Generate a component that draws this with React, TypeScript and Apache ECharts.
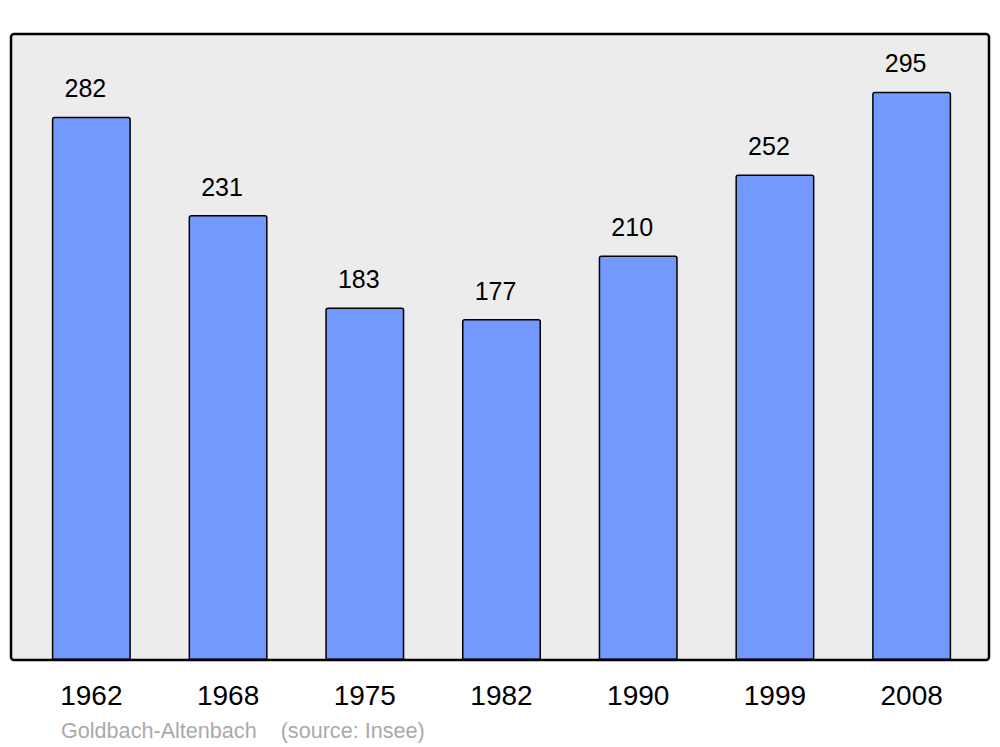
import React, { useEffect, useRef } from "react";
import * as echarts from "echarts";

const years = ["1962", "1968", "1975", "1982", "1990", "1999", "2008"];
const population = [282, 231, 183, 177, 210, 252, 295];
const footerText = "Goldbach-Altenbach    (source: Insee)";

export default function App() {
  const ref = useRef<HTMLDivElement>(null);
  useEffect(() => {
    if (!ref.current) return;
    const chart = echarts.init(ref.current, undefined, { renderer: "svg" });
    chart.setOption({
      animation: false,
      backgroundColor: "#ffffff",
      textStyle: { fontFamily: "Liberation Sans, Arial, sans-serif" },
      grid: { left: 23, right: 20, top: 34, bottom: 87 },
      xAxis: {
        type: "category",
        data: years,
        axisLine: { show: false },
        axisTick: { show: false },
        axisLabel: {
          color: "#000",
          fontSize: 28,
          lineHeight: 28,
          margin: 21,
          fontFamily: "Liberation Sans, Arial, sans-serif",
        },
      },
      yAxis: {
        type: "value",
        min: 0,
        max: 325,
        show: false,
        splitLine: { show: false },
      },
      graphic: [
        {
          type: "rect",
          z: 0,
          shape: { x: 11, y: 34, width: 978, height: 626, r: 3 },
          style: { fill: "#ececec", stroke: "none" },
        },
        {
          type: "rect",
          z: 10,
          shape: { x: 11, y: 34, width: 978, height: 626, r: 3 },
          style: { fill: "none", stroke: "#000", lineWidth: 2.5 },
        },
        {
          type: "text",
          x: 61,
          y: 730,
          style: {
            text: footerText,
            fill: "#aaaaaa",
            fontSize: 21.6,
            fontFamily: "Liberation Sans, Arial, sans-serif",
            verticalAlign: "middle",
            align: "left",
          },
        },
      ],
      series: [
        {
          type: "bar",
          data: population,
          barWidth: 79,
          itemStyle: {
            color: "#7399ff",
            borderColor: "#000",
            borderWidth: 1.5,
            borderRadius: [2, 2, 0, 0],
          },
          label: {
            show: true,
            position: "top",
            distance: 16,
            offset: [-6, 0],
            color: "#000",
            fontSize: 25,
            lineHeight: 25,
            fontFamily: "Liberation Sans, Arial, sans-serif",
          },
        },
      ],
    });
    return () => chart.dispose();
  }, []);
  return (
    <div
      ref={ref}
      style={{ position: "fixed", left: 0, top: 0, width: 1000, height: 747 }}
    />
  );
}
